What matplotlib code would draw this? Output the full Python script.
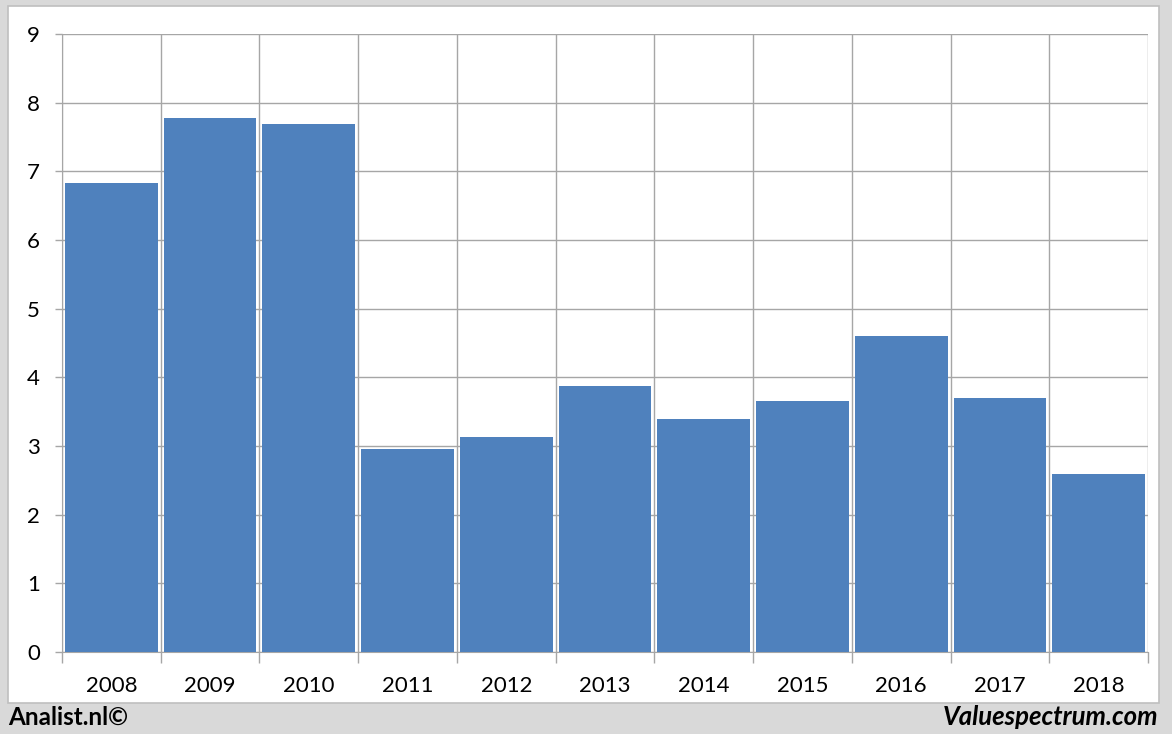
import matplotlib.pyplot as plt
from matplotlib.patches import Rectangle
from matplotlib.ticker import FixedLocator

years = ["2008", "2009", "2010", "2011", "2012", "2013", "2014", "2015", "2016", "2017", "2018"]
values = [6.83, 7.78, 7.69, 2.96, 3.13, 3.87, 3.39, 3.66, 4.60, 3.70, 2.59]

plt.rcParams['font.family'] = ['Lato', 'DejaVu Sans']

fig = plt.figure(figsize=(11.72, 7.34), dpi=100)
fig.patch.set_facecolor('#d9d9d9')

# white chart panel behind the axes
W, H = 1172, 734
panel = Rectangle((8 / W, 1 - 703 / H), (1159 - 8) / W, (703 - 6) / H,
                  transform=fig.transFigure, facecolor='white',
                  edgecolor='#bfbfbf', linewidth=1.2, zorder=-10)
fig.patches.append(panel)

ax = fig.add_axes([62 / W, 1 - 652 / H, (1148 - 62) / W, (652 - 34) / H])
ax.set_facecolor('white')

x = list(range(len(years)))
ax.bar(x, values, width=0.94, color='#4f81bd', zorder=3)

ax.set_xlim(-0.5, len(years) - 0.5)
ax.set_ylim(0, 9)
ax.set_yticks(range(10))
ax.set_xticks(x)
ax.set_xticklabels(years)
ax.xaxis.set_minor_locator(FixedLocator([i - 0.5 for i in range(len(years) + 1)]))

grid = '#a6a6a6'
ax.grid(axis='y', which='major', color=grid, linewidth=1, zorder=1)
ax.grid(axis='x', which='minor', color=grid, linewidth=1, zorder=1)
ax.tick_params(axis='x', which='major', length=0, pad=17, labelsize=16)
ax.tick_params(axis='x', which='minor', length=8, color=grid, width=1)
ax.tick_params(axis='y', length=5, color=grid, width=1, pad=11, labelsize=16)

for side in ['top', 'right']:
    ax.spines[side].set_visible(False)
ax.spines['left'].set_color(grid)
ax.spines['bottom'].set_color(grid)

fig.text(8 / W, 1 - 717 / H, "Analist.nl©", fontsize=17.5, fontweight='bold',
         ha='left', va='center')
fig.text(1158 / W, 1 - 717 / H, "Valuespectrum.com", fontsize=18.5,
         fontweight='bold', fontstyle='italic', ha='right', va='center')

fig.savefig('out.png', dpi=100, facecolor=fig.get_facecolor())
